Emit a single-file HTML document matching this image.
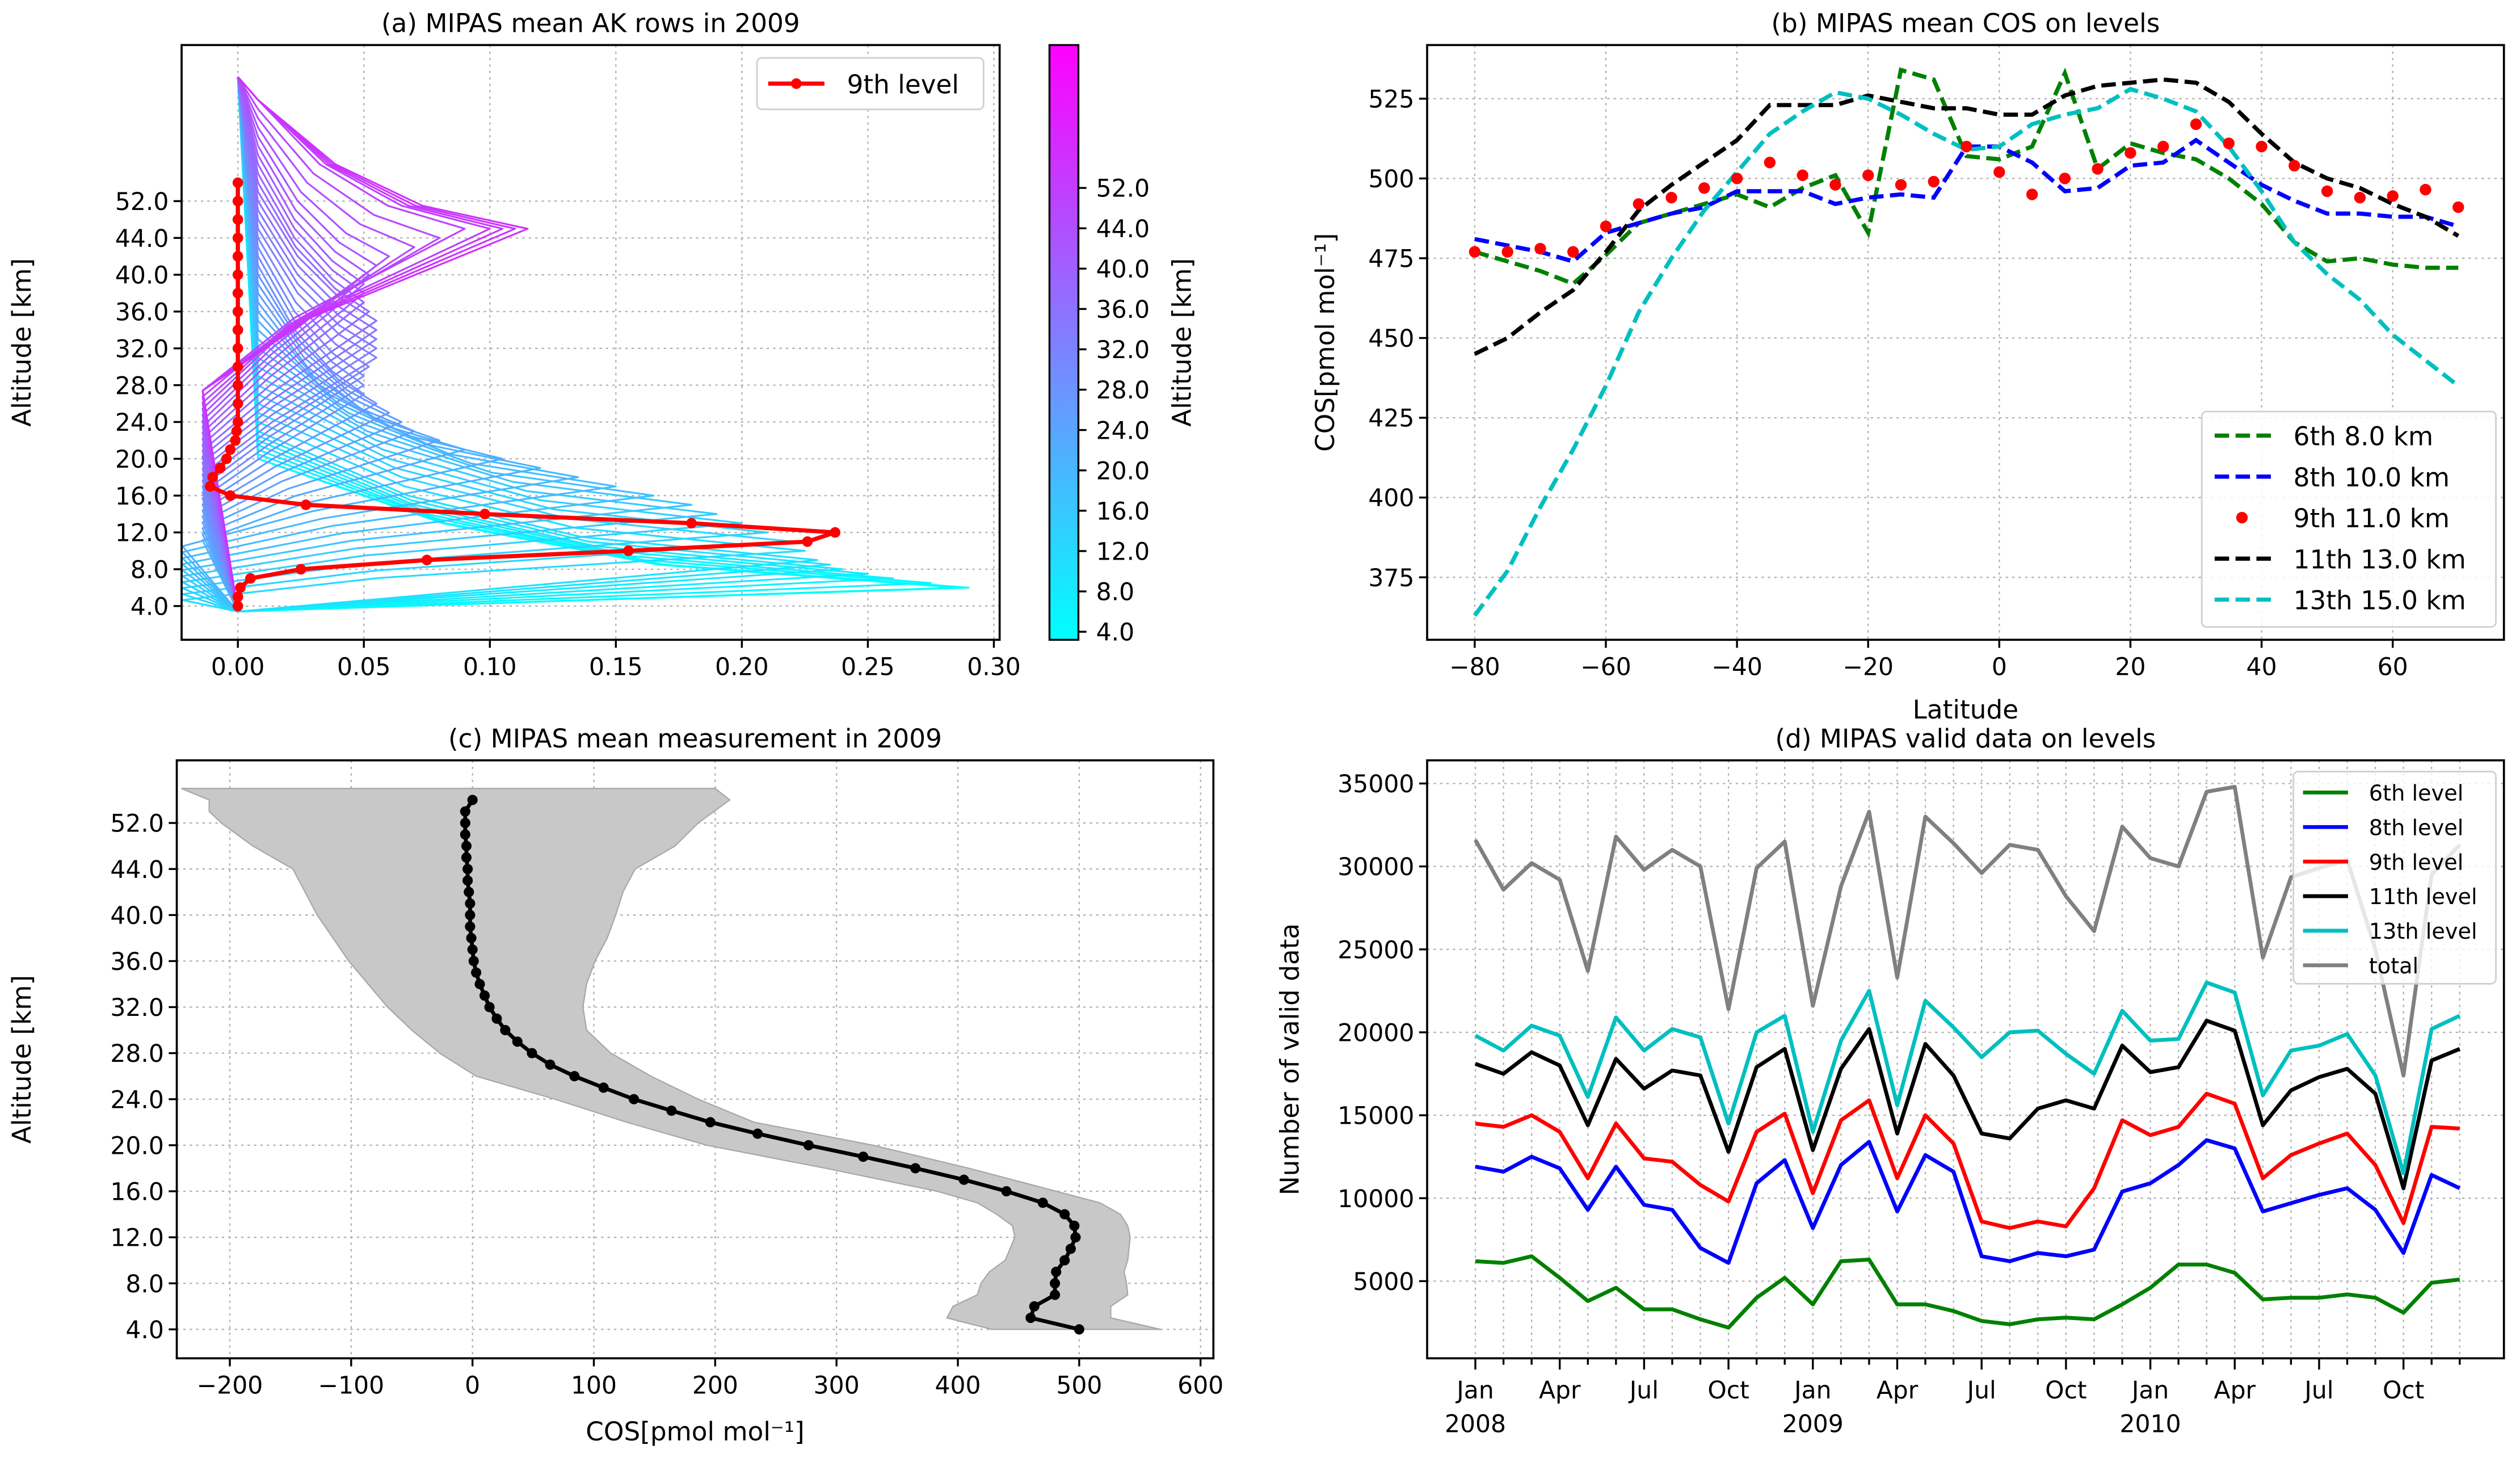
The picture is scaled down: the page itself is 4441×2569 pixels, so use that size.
<!DOCTYPE html>
<html><head><meta charset="utf-8"><title>MIPAS COS figure</title>
<style>
html,body{margin:0;padding:0;background:#fff;}
svg{display:block;font-family:"DejaVu Sans","Liberation Sans",sans-serif;}
</style></head>
<body>
<svg id="fig" xmlns="http://www.w3.org/2000/svg" width="4441" height="2569" viewBox="0 0 1568 907">
<rect width="1568" height="907" fill="#fff"/>
</svg>
<script>
// ---------- Panel (a) data ----------
const akRowAlt = [4,5,6,7,8,9,10,11,12,13,14,15,16,17,18,19,20,21,22,23,24,25,26,27,28,29,30,31,32,33,34,35,36,37,38,39,40,41,42,43,44,45,46,47,48,49,50,51];
const akPeakAlt = [6,6,6.5,7,7.5,8,8.5,9,10,11,12,13,14,15,16,17,18,19,20,21,22,23,24,25,26,27,28,29,30,31,32,33,34,35,36,37,38,39,40,41,42,43,44,45,45,45,45,45];
const akPeakVal = [0.29,0.285,0.275,0.26,0.25,0.24,0.235,0.23,0.225,0.22,0.21,0.2,0.19,0.18,0.165,0.15,0.135,0.12,0.105,0.09,0.08,0.07,0.065,0.06,0.055,0.05,0.05,0.05,0.052,0.055,0.055,0.055,0.055,0.055,0.052,0.05,0.05,0.05,0.052,0.055,0.06,0.07,0.08,0.09,0.1,0.105,0.11,0.115];
const lvl9Alt = [4,5,6,7,8,9,10,11,12,13,14,15,16,17,18,19,20,21,22,23,24,26,28,30,32,34,36,38,40,42,44,46,48,50];
const lvl9Val = [0,0,0.001,0.005,0.025,0.075,0.155,0.226,0.237,0.18,0.098,0.027,-0.003,-0.011,-0.01,-0.007,-0.0045,-0.003,-0.001,-0.0005,0,0,0,0,0,0,0,0,0,0,0,0,0,0];
const aXTicks = [0,0.05,0.1,0.15,0.2,0.25,0.3];
const aXTickLabels = ["0.00","0.05","0.10","0.15","0.20","0.25","0.30"];
const altTicks = [4,8,12,16,20,24,28,32,36,40,44,48];
const altTickLabels = ["4.0","8.0","12.0","16.0","20.0","24.0","28.0","32.0","36.0","40.0","44.0","52.0"];
// ---------- Panel (b) data ----------
const lats = [-80,-75,-70,-65,-60,-55,-50,-45,-40,-35,-30,-25,-20,-15,-10,-5,0,5,10,15,20,25,30,35,40,45,50,55,60,65,70];
const cos6 = [477,474,471,467,476,486,489,492,495,491,497,501,483,534,531,507,506,510,533,503,511,508,506,500,492,480,474,475,473,472,472];
const cos8 = [481,479,477,474,483,486,489,491,496,496,496,492,494,495,494,510,510,505,496,497,504,505,512,505,498,493,489,489,488,488,485];
const cos9 = [477,477,478,477,485,492,494,497,500,505,501,498,501,498,499,510,502,495,500,503,508,510,517,511,510,504,496,494,494.5,496.5,491];
const cos11 = [445,450,458,465,477,490,498,505,512,523,523,523,526,524,522,522,520,520,526,529,530,531,530,524,514,505,500,497,492,488,482];
const cos13 = [363,377,397,415,435,458,475,490,502,514,521,527,525,520,514,509,510,517,520,522,528,525,521,510,496,480,470,462,451,443,435];
const bXTicks = [-80,-60,-40,-20,0,20,40,60];
const bXTickLabels = ["\u221280","\u221260","\u221240","\u221220","0","20","40","60"];
const bYTicks = [375,400,425,450,475,500,525];
// ---------- Panel (c) data ----------
const measAlt = [4,5,6,7,8,9,10,11,12,13,14,15,16,17,18,19,20,21,22,23,24,25,26,27,28,29,30,31,32,33,34,35,36,37,38,39,40,41,42,43,44,45,46,47,48,49,50];
const measVal = [500,460,463,480,480,481,488,493,497,496,488,470,440,405,365,322,277,235,196,164,133,108,84,64,49,37,27,20,14,10,6,3,1,0,-1,-2,-2,-2,-3,-4,-4,-5,-5,-6,-6,-6,0];
const bandAlt = [4,5,6,7,8,9,10,12,13,14,15,16,18,20,22,24,26,28,30,32,34,36,38,40,42,44,46,48,49,50,51];
const bandUpper = [567,526,526,540,539,537,540,542,540,534,517,481,409,330,232,186,147,114,94,91,94,101,111,118,124,134,167,186,199,212,200];
const bandLower = [428,391,396,416,419,426,439,447,445,432,416,383,291,193,127,68,3,-27,-50,-70,-86,-102,-115,-128,-138,-148,-181,-207,-217,-217,-240];
const cXTicks = [-200,-100,0,100,200,300,400,500,600];
const cXTickLabels = ["\u2212200","\u2212100","0","100","200","300","400","500","600"];
// ---------- Panel (d) data ----------
const months = ["Jan","Feb","Mar","Apr","May","Jun","Jul","Aug","Sep","Oct","Nov","Dec"];
const dTotal = [31600,28600,30200,29200,23700,31800,29800,31000,30000,21400,29900,31500,21600,28800,33300,23300,33000,31400,29600,31300,31000,28200,26100,32400,30500,30000,34500,34800,24500,29350,29900,30400,25000,17400,29500,31300];
const d13 = [19800,18900,20400,19800,16100,20900,18900,20200,19700,14500,20000,21000,14000,19500,22500,15600,21900,20300,18500,20000,20100,18700,17500,21300,19500,19600,23000,22400,16200,18900,19200,19900,17400,11500,20200,21000];
const d11 = [18100,17500,18800,18000,14400,18400,16600,17700,17400,12800,17900,19000,12900,17800,20200,13900,19300,17400,13900,13600,15400,15900,15400,19200,17600,17900,20700,20100,14400,16500,17300,17800,16300,10600,18300,19000];
const d9 = [14500,14300,15000,14000,11200,14500,12400,12200,10800,9800,14000,15100,10300,14700,15900,11200,15000,13300,8600,8200,8600,8300,10600,14700,13800,14300,16300,15700,11200,12600,13300,13900,12000,8500,14300,14200];
const d8 = [11900,11600,12500,11800,9300,11900,9600,9300,7000,6100,10900,12300,8200,12000,13400,9200,12600,11600,6500,6200,6700,6500,6900,10400,10900,12000,13500,13000,9200,9700,10200,10600,9300,6700,11400,10600];
const d6 = [6200,6100,6500,5200,3800,4600,3300,3300,2700,2200,4000,5200,3600,6200,6300,3600,3600,3200,2600,2400,2700,2800,2700,3600,4600,6000,6000,5500,3900,4000,4000,4200,4000,3100,4900,5100];
const dYTicks = [5000,10000,15000,20000,25000,30000,35000];
const years = ["2008","2009","2010"];

const NS = "http://www.w3.org/2000/svg";
const svg = document.getElementById("fig");
function mk(tag, attrs, parent){
  const e = document.createElementNS(NS, tag);
  for (const k in attrs) e.setAttribute(k, attrs[k]);
  (parent || svg).appendChild(e);
  return e;
}
function txt(s, x, y, size, anchor, parent, extra){
  const t = mk("text", Object.assign({x:x, y:y, "font-size":size, "text-anchor":anchor||"middle", fill:"#000"}, extra||{}), parent);
  t.textContent = s;
  return t;
}
function pts(xs, ys){ return xs.map((v,i)=>xs[i].toFixed(2)+","+ys[i].toFixed(2)).join(" "); }
const GRID = {stroke:"#b0b0b0","stroke-width":0.8,"stroke-dasharray":"1.5,2.5"};
const FS = 15;

function makePanel(name){
  const g = mk("g", {});
  
  
  return g;
}
function frame(g, x0,y0,x1,y1){
  const r = mk("rect",{x:x0,y:y0,width:x1-x0,height:y1-y0,fill:"none",stroke:"#000","stroke-width":1.3},g);
  
  
}
function clip(id,x0,y0,x1,y1){
  const c = mk("clipPath",{id:id});
  mk("rect",{x:x0,y:y0,width:x1-x0,height:y1-y0},c);
}
function xTicks(g, vals, labels, xf, y1, y0, grid){
  vals.forEach((v,i)=>{
    const x = xf(v);
    if (grid){ const gl = mk("line",Object.assign({x1:x,x2:x,y1:y0,y2:y1},GRID),g);
        }
    const t = mk("line",{x1:x,x2:x,y1:y1,y2:y1+5,stroke:"#000","stroke-width":1.2},g);
     
    if (labels){ const l = txt(labels[i], x, y1+22, FS, "middle", g);
        }
  });
}
function yTicks(g, vals, labels, yf, x0, x1, grid){
  vals.forEach((v,i)=>{
    const y = yf(v);
    if (grid){ const gl = mk("line",Object.assign({x1:x0,x2:x1,y1:y,y2:y},GRID),g);
        }
    const t = mk("line",{x1:x0-5,x2:x0,y1:y,y2:y,stroke:"#000","stroke-width":1.2},g);
     
    const l = txt(labels[i], x0-8, y+5.5, FS, "end", g);
     
  });
}
function cool(t){ t=Math.max(0,Math.min(1,t)); return "rgb("+Math.round(255*t)+","+Math.round(255*(1-t))+",255)"; }

// ================= Panel (a) =================
(function(){
  const X0=113,X1=622,Y0=28,Y1=398;
  const xA = v => 148 + v*1568;
  const yA = a => 377 - (a-4)*5.725;
  const g = makePanel("panel-a-ak-rows");
  clip("clipA",X0,Y0,X1,Y1);
  yTicks(g, altTicks, altTickLabels, yA, X0, X1, true);
  xTicks(g, aXTicks, aXTickLabels, xA, Y1, Y0, true);
  const lg = mk("g",{"clip-path":"url(#clipA)"},g);
  akRowAlt.forEach((ra,i)=>{
    const p = akPeakAlt[i], v = akPeakVal[i];
    const alts=[3.4], vals=[0];
    if (p > 9){
      const dipAlt = p - (5 + 0.35*(p-9));
      const depth = p < 20 ? -0.022 : -0.014;
      alts.push(dipAlt); vals.push(depth);
      alts.push(dipAlt + 0.45*(p-dipAlt)); vals.push(v*0.25);
    }
    alts.push(p); vals.push(v);
    alts.push(p+2.5); vals.push(v*0.55+0.01);
    alts.push(p+7); vals.push(v*0.25+0.01);
    alts.push(Math.min(60,p+14)); vals.push(0.008);
    alts.push(61.5); vals.push(0);
    const pl = mk("polyline",{points:pts(vals.map(xA), alts.map(yA)),fill:"none",stroke:cool((ra-4)/58),"stroke-width":1.1,"stroke-linejoin":"round"},lg);
    
    
  });
  const red = mk("polyline",{points:pts(lvl9Val.map(xA), lvl9Alt.map(yA)),fill:"none",stroke:"#ff0000","stroke-width":2.6},lg);
  
  
  lvl9Val.forEach((v,i)=>{
    const c = mk("circle",{cx:xA(v),cy:yA(lvl9Alt[i]),r:3.3,fill:"#ff0000"},lg);
    
    
  });
  frame(g,X0,Y0,X1,Y1);
  const t = txt("(a) MIPAS mean AK rows in 2009", (X0+X1)/2, 20, 16, "middle", g);
   
  const yl = txt("Altitude [km]", 0, 0, 16, "middle", g, {transform:"translate(19,213) rotate(-90)"});
   
  const leg = mk("g",{},g);
   
  mk("rect",{x:471,y:36,width:141,height:32,rx:3,fill:"#fff",stroke:"#d0d0d0","stroke-width":1},leg);
  mk("line",{x1:478,x2:513,y1:52,y2:52,stroke:"#ff0000","stroke-width":2.6},leg);
  mk("circle",{cx:495.5,cy:52,r:3.3,fill:"#ff0000"},leg);
  const lt = txt("9th level", 527, 58, 16, "start", leg);
   
  const cb = mk("g",{},g);
   
  const defs = mk("defs",{},cb);
  const lgd = mk("linearGradient",{id:"coolGrad",x1:0,y1:1,x2:0,y2:0},defs);
  mk("stop",{offset:"0","stop-color":"#00ffff"},lgd);
  mk("stop",{offset:"1","stop-color":"#ff00ff"},lgd);
  mk("rect",{x:653,y:28,width:18,height:370,fill:"url(#coolGrad)",stroke:"#000","stroke-width":1.2},cb);
  const cbLabels = ["4.0","8.0","12.0","16.0","20.0","24.0","28.0","32.0","36.0","40.0","44.0","52.0"];
  cbLabels.forEach((s,i)=>{
    const y = 393 - i*25.1;
    mk("line",{x1:671,x2:676,y1:y,y2:y,stroke:"#000","stroke-width":1.2},cb);
    const l = txt(s, 682, y+5.5, FS, "start", cb);
     
  });
  const cbt = txt("Altitude [km]", 0, 0, 16, "middle", cb, {transform:"translate(741,213) rotate(-90)"});
   
})();

// ================= Panel (b) =================
(function(){
  const X0=888,X1=1558,Y0=28,Y1=398;
  const xB = l => 1244 + l*4.08;
  const yB = v => 111 - (v-500)*1.985;
  const g = makePanel("panel-b-cos-levels");
  clip("clipB",X0,Y0,X1,Y1);
  yTicks(g, bYTicks, bYTicks.map(String), yB, X0, X1, true);
  xTicks(g, bXTicks, bXTickLabels, xB, Y1, Y0, true);
  const lg = mk("g",{"clip-path":"url(#clipB)"},g);
  const series = [[cos6,"#008000","series-6th-8km"],[cos8,"#0000ff","series-8th-10km"],[cos11,"#000000","series-11th-13km"],[cos13,"#00bfbf","series-13th-15km"]];
  series.forEach(s=>{
    const pl = mk("polyline",{points:pts(lats.map(xB), s[0].map(yB)),fill:"none",stroke:s[1],"stroke-width":2.6,"stroke-dasharray":"9,4"},lg);
    
    
  });
  cos9.forEach((v,i)=>{
    const c = mk("circle",{cx:xB(lats[i]),cy:yB(v),r:3.6,fill:"#ff0000"},lg);
    
    
  });
  frame(g,X0,Y0,X1,Y1);
  const t = txt("(b) MIPAS mean COS on levels", (X0+X1)/2, 20, 16, "middle", g);
   
  const xl = txt("Latitude", (X0+X1)/2, 447, 16, "middle", g);
   
  const yl = txt("COS[pmol mol\u207B\u00B9]", 0, 0, 16, "middle", g, {transform:"translate(830,213) rotate(-90)"});
   
  const leg = mk("g",{},g);
   
  mk("rect",{x:1370,y:256,width:183,height:134,rx:3,fill:"#fff","fill-opacity":0.85,stroke:"#d0d0d0","stroke-width":1},leg);
  const entries = [["6th 8.0 km","#008000","line"],["8th 10.0 km","#0000ff","line"],["9th 11.0 km","#ff0000","dot"],["11th 13.0 km","#000000","line"],["13th 15.0 km","#00bfbf","line"]];
  entries.forEach((e,i)=>{
    const y = 271 + i*25.5;
    if (e[2]==="line") mk("line",{x1:1378,x2:1413,y1:y,y2:y,stroke:e[1],"stroke-width":2.6,"stroke-dasharray":"9,4"},leg);
    else mk("circle",{cx:1395,cy:y,r:3.6,fill:e[1]},leg);
    const l = txt(e[0], 1427, y+6, 16, "start", leg);
     
  });
})();

// ================= Panel (c) =================
(function(){
  const X0=110,X1=755,Y0=473,Y1=845;
  const xC = v => 294 + v*0.755;
  const yC = a => 827 - (a-4)*7.16;
  const g = makePanel("panel-c-measurement");
  clip("clipC",X0,Y0,X1,Y1);
  yTicks(g, altTicks, altTickLabels, yC, X0, X1, true);
  xTicks(g, cXTicks, cXTickLabels, xC, Y1, Y0, true);
  const lg = mk("g",{"clip-path":"url(#clipC)"},g);
  const bx = bandUpper.map(xC).concat(bandLower.map(xC).reverse());
  const by = bandAlt.map(yC).concat(bandAlt.map(yC).reverse());
  const band = mk("polygon",{points:pts(bx,by),fill:"#c8c8c8",stroke:"#a8a8a8","stroke-width":0.8},lg);
  
  
  const ml = mk("polyline",{points:pts(measVal.map(xC), measAlt.map(yC)),fill:"none",stroke:"#000","stroke-width":2.4},lg);
  
  
  measVal.forEach((v,i)=>{
    const c = mk("circle",{cx:xC(v),cy:yC(measAlt[i]),r:3.2,fill:"#000"},lg);
    
    
  });
  frame(g,X0,Y0,X1,Y1);
  const t = txt("(c) MIPAS mean measurement in 2009", (X0+X1)/2, 465, 16, "middle", g);
   
  const xl = txt("COS[pmol mol\u207B\u00B9]", (X0+X1)/2, 896, 16, "middle", g);
   
  const yl = txt("Altitude [km]", 0, 0, 16, "middle", g, {transform:"translate(19,659) rotate(-90)"});
   
})();

// ================= Panel (d) =================
(function(){
  const X0=888,X1=1558,Y0=473,Y1=845;
  const xD = i => 918 + i*17.5;
  const yD = v => 797 - (v-5000)*0.01032;
  const g = makePanel("panel-d-valid-data");
  clip("clipD",X0,Y0,X1,Y1);
  yTicks(g, dYTicks, dYTicks.map(String), yD, X0, X1, true);
  d6.forEach((v,i)=>{
    const x = xD(i);
    const gl = mk("line",Object.assign({x1:x,x2:x,y1:Y0,y2:Y1},GRID),g);
     
    const major = i%3===0;
    const tk = mk("line",{x1:x,x2:x,y1:Y1,y2:Y1+(major?7:4),stroke:"#000","stroke-width":1.2},g);
     
    if (major){
      const l = txt(months[i%12], x, Y1+25, FS, "middle", g);
       
      if (i%12===0){
        const yl = txt(years[i/12], x, Y1+46, FS, "middle", g);
         
      }
    }
  });
  const lg = mk("g",{"clip-path":"url(#clipD)"},g);
  const idx = d6.map((v,i)=>i);
  const series = [[dTotal,"#808080","series-total"],[d6,"#008000","series-6th-level"],[d8,"#0000ff","series-8th-level"],[d9,"#ff0000","series-9th-level"],[d11,"#000000","series-11th-level"],[d13,"#00bfbf","series-13th-level"]];
  series.forEach(s=>{
    const pl = mk("polyline",{points:pts(idx.map(xD), s[0].map(yD)),fill:"none",stroke:s[1],"stroke-width":2.4,"stroke-linejoin":"round"},lg);
    
    
  });
  frame(g,X0,Y0,X1,Y1);
  const t = txt("(d) MIPAS valid data on levels", (X0+X1)/2, 465, 16, "middle", g);
   
  const yl = txt("Number of valid data", 0, 0, 16, "middle", g, {transform:"translate(808,659) rotate(-90)"});
   
  const leg = mk("g",{},g);
   
  mk("rect",{x:1427,y:480,width:126,height:132,rx:3,fill:"#fff","fill-opacity":0.8,stroke:"#d0d0d0","stroke-width":1},leg);
  const entries = [["6th level","#008000"],["8th level","#0000ff"],["9th level","#ff0000"],["11th level","#000000"],["13th level","#00bfbf"],["total","#808080"]];
  entries.forEach((e,i)=>{
    const y = 493 + i*21.5;
    mk("line",{x1:1433,x2:1461,y1:y,y2:y,stroke:e[1],"stroke-width":2.4},leg);
    const l = txt(e[0], 1474, y+5, 13.5, "start", leg);
     
  });
})();
</script>
</body></html>
